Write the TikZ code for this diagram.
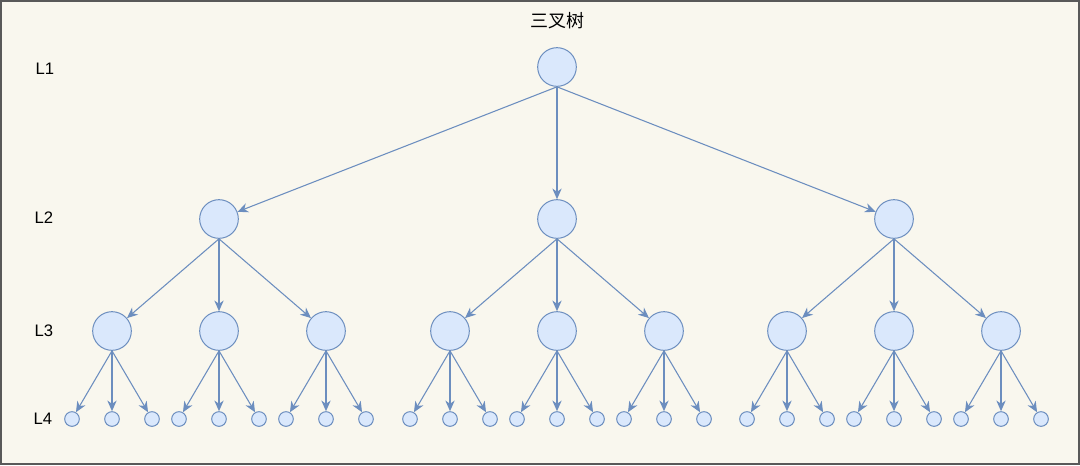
\documentclass[tikz,border=0pt]{standalone}
\usepackage{fontspec}
\setmainfont{Liberation Sans}
\newfontfamily\cjkfont{Noto Sans CJK SC}
\usetikzlibrary{arrows.meta}
\definecolor{nodefill}{HTML}{DAE8FC}
\definecolor{nodeline}{HTML}{6C8EBF}
\definecolor{paper}{HTML}{F9F7EE}
\tikzstyle{bignode} = [circle, minimum size=29pt, inner sep=0pt, fill=nodefill, draw=nodeline, line width=0.75pt]
\tikzstyle{leaf} = [circle, minimum size=11pt, inner sep=0pt, fill=nodefill, draw=nodeline, line width=0.75pt]
\tikzstyle{arrow} = [draw=nodeline, line width=0.8pt, -{Stealth[length=8pt,width=7pt,inset=2.5pt]}]
\tikzstyle{levellabel} = [font=\fontsize{12.5}{15}\selectfont]
\begin{document}
\begin{tikzpicture}[x=0.75pt, y=-0.75pt]
   \fill [paper] (0,0) rectangle (1080,465);
   \draw [gray!70!black, line width=1.5pt] (1,1) rectangle (1079,464);
   \useasboundingbox (0,0) rectangle (1080,465);
   \node (title) at (557,21) {\cjkfont\fontsize{13.5}{16}\selectfont 三叉树};
   \node (l1) [levellabel] at (45,69) {L1};
   \node (l2) [levellabel] at (44,218) {L2};
   \node (l3) [levellabel] at (44,331) {L3};
   \node (l4) [levellabel] at (43,419) {L4};
   \node (root) [bignode] at (557,67) {};
   \foreach \i/\dx in {1/-338,2/0,3/337} {
      \node (n\i) [bignode] at (557+\dx,219) {};
      \draw [arrow] (root.south) -- (n\i);
      \foreach \j/\ex in {1/-107,2/0,3/107} {
         \node (n\i\j) [bignode] at (557+\dx+\ex,331) {};
         \draw [arrow] (n\i.south) -- (n\i\j);
         \foreach \k/\fx in {1/-40,2/0,3/40} {
            \node (n\i\j\k) [leaf] at (557+\dx+\ex+\fx,419) {};
            \draw [arrow] (n\i\j.south) -- (n\i\j\k);
         }
      }
   }
\end{tikzpicture}
\end{document}
